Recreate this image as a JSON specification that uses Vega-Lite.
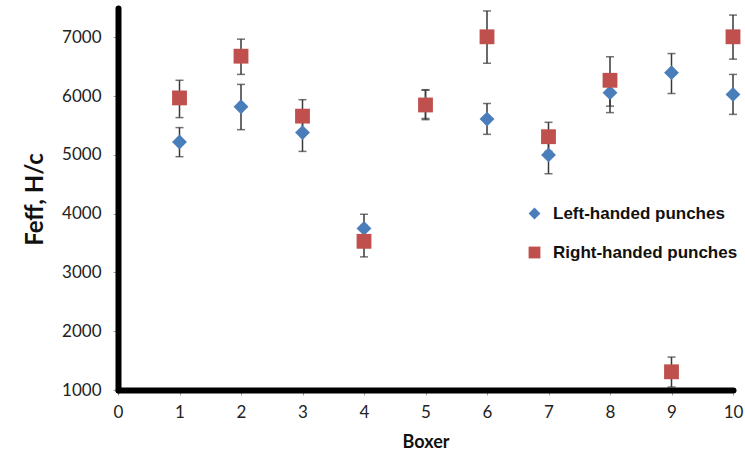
{
  "$schema": "https://vega.github.io/schema/vega-lite/v6.json",
  "width": 615,
  "height": 382,
  "autosize": {"type": "none"},
  "padding": {"left": 118, "top": 8, "right": 12, "bottom": 67},
  "background": "white",
  "config": {
    "view": {"stroke": null},
    "font": "Lato",
    "axis": {
      "grid": false,
      "domainColor": "#000000",
      "domainWidth": 6,
      "domainCap": "round",
      "tickColor": "#a0a0a0",
      "tickSize": 5,
      "labelFont": "Lato",
      "labelFontSize": 17,
      "labelFlush": false,
      "labelColor": "#222222",
      "titleFont": "Lato",
      "titleFontWeight": "bold",
      "titleColor": "#111111"
    },
    "legend": {
      "orient": "none",
      "legendX": 408,
      "legendY": 197,
      "title": null,
      "labelFont": "Liberation Sans",
      "labelFontSize": 17,
      "labelFontWeight": "bold",
      "labelColor": "#111111",
      "labelLimit": 400,
      "symbolSize": 140,
      "rowPadding": 21,
      "labelOffset": 10
    }
  },
  "data": {
    "values": [
      {"boxer": 1, "hand": "Left-handed punches", "mean": 5220, "lo": 4970, "hi": 5465},
      {"boxer": 1, "hand": "Right-handed punches", "mean": 5970, "lo": 5635, "hi": 6270},
      {"boxer": 2, "hand": "Left-handed punches", "mean": 5820, "lo": 5430, "hi": 6200},
      {"boxer": 2, "hand": "Right-handed punches", "mean": 6680, "lo": 6370, "hi": 6970},
      {"boxer": 3, "hand": "Left-handed punches", "mean": 5380, "lo": 5060, "hi": 5650},
      {"boxer": 3, "hand": "Right-handed punches", "mean": 5660, "lo": 5400, "hi": 5940},
      {"boxer": 4, "hand": "Left-handed punches", "mean": 3750, "lo": 3510, "hi": 3990},
      {"boxer": 4, "hand": "Right-handed punches", "mean": 3530, "lo": 3265, "hi": 3800},
      {"boxer": 5, "hand": "Left-handed punches", "mean": 5870, "lo": 5620, "hi": 6100},
      {"boxer": 5, "hand": "Right-handed punches", "mean": 5850, "lo": 5600, "hi": 6110},
      {"boxer": 6, "hand": "Left-handed punches", "mean": 5610, "lo": 5350, "hi": 5875},
      {"boxer": 6, "hand": "Right-handed punches", "mean": 7010, "lo": 6560, "hi": 7450},
      {"boxer": 7, "hand": "Left-handed punches", "mean": 5000, "lo": 4680, "hi": 5300},
      {"boxer": 7, "hand": "Right-handed punches", "mean": 5310, "lo": 5060, "hi": 5555},
      {"boxer": 8, "hand": "Left-handed punches", "mean": 6060, "lo": 5720, "hi": 6350},
      {"boxer": 8, "hand": "Right-handed punches", "mean": 6270, "lo": 5830, "hi": 6670},
      {"boxer": 9, "hand": "Left-handed punches", "mean": 6400, "lo": 6045, "hi": 6725},
      {"boxer": 9, "hand": "Right-handed punches", "mean": 1310, "lo": 1050, "hi": 1560},
      {"boxer": 10, "hand": "Left-handed punches", "mean": 6030, "lo": 5690, "hi": 6370},
      {"boxer": 10, "hand": "Right-handed punches", "mean": 7010, "lo": 6630, "hi": 7380}
    ]
  },
  "encoding": {
    "x": {
      "field": "boxer",
      "type": "quantitative",
      "scale": {"domain": [0, 10], "nice": false},
      "axis": {
        "values": [0, 1, 2, 3, 4, 5, 6, 7, 8, 9, 10],
        "format": "d",
        "domainWidth": 6,
        "labelFlush": false,
        "labelPadding": 9,
        "title": "Boxer",
        "titleFontSize": 18,
        "titlePadding": 13
      }
    }
  },
  "layer": [
    {
      "mark": {"type": "rule", "color": "#383838", "strokeWidth": 1.5},
      "encoding": {
        "y": {
          "field": "lo",
          "type": "quantitative",
          "scale": {"domain": [1000, 7500], "nice": false, "zero": false},
          "axis": {"values": [1000, 2000, 3000, 4000, 5000, 6000, 7000], "format": "d", "domainWidth": 6, "labelPadding": 12, "title": "Feff, H/c", "titleFontSize": 24, "titlePadding": 14}
        },
        "y2": {"field": "hi"}
      }
    },
    {
      "mark": {"type": "tick", "orient": "horizontal", "color": "#383838", "size": 8, "thickness": 1.5},
      "encoding": {
        "y": {
          "field": "lo",
          "type": "quantitative",
          "scale": {"domain": [1000, 7500], "nice": false, "zero": false},
          "axis": {"values": [1000, 2000, 3000, 4000, 5000, 6000, 7000], "format": "d", "domainWidth": 6, "labelPadding": 12, "title": "Feff, H/c", "titleFontSize": 24, "titlePadding": 14}
        }
      }
    },
    {
      "mark": {"type": "tick", "orient": "horizontal", "color": "#383838", "size": 8, "thickness": 1.5},
      "encoding": {
        "y": {
          "field": "hi",
          "type": "quantitative",
          "scale": {"domain": [1000, 7500], "nice": false, "zero": false},
          "axis": {"values": [1000, 2000, 3000, 4000, 5000, 6000, 7000], "format": "d", "domainWidth": 6, "labelPadding": 12, "title": "Feff, H/c", "titleFontSize": 24, "titlePadding": 14}
        }
      }
    },
    {
      "mark": {"type": "point", "filled": true, "opacity": 1, "size": 220},
      "encoding": {
        "y": {
          "field": "mean",
          "type": "quantitative",
          "scale": {"domain": [1000, 7500], "nice": false, "zero": false},
          "axis": {"values": [1000, 2000, 3000, 4000, 5000, 6000, 7000], "format": "d", "domainWidth": 6, "labelPadding": 12, "title": "Feff, H/c", "titleFontSize": 24, "titlePadding": 14}
        },
        "color": {
          "field": "hand",
          "type": "nominal",
          "scale": {"domain": ["Left-handed punches", "Right-handed punches"], "range": ["#4A7EBB", "#C0504D"]}
        },
        "shape": {
          "field": "hand",
          "type": "nominal",
          "scale": {"domain": ["Left-handed punches", "Right-handed punches"], "range": ["diamond", "square"]}
        },
        "order": {"field": "hand"}
      }
    }
  ]
}
